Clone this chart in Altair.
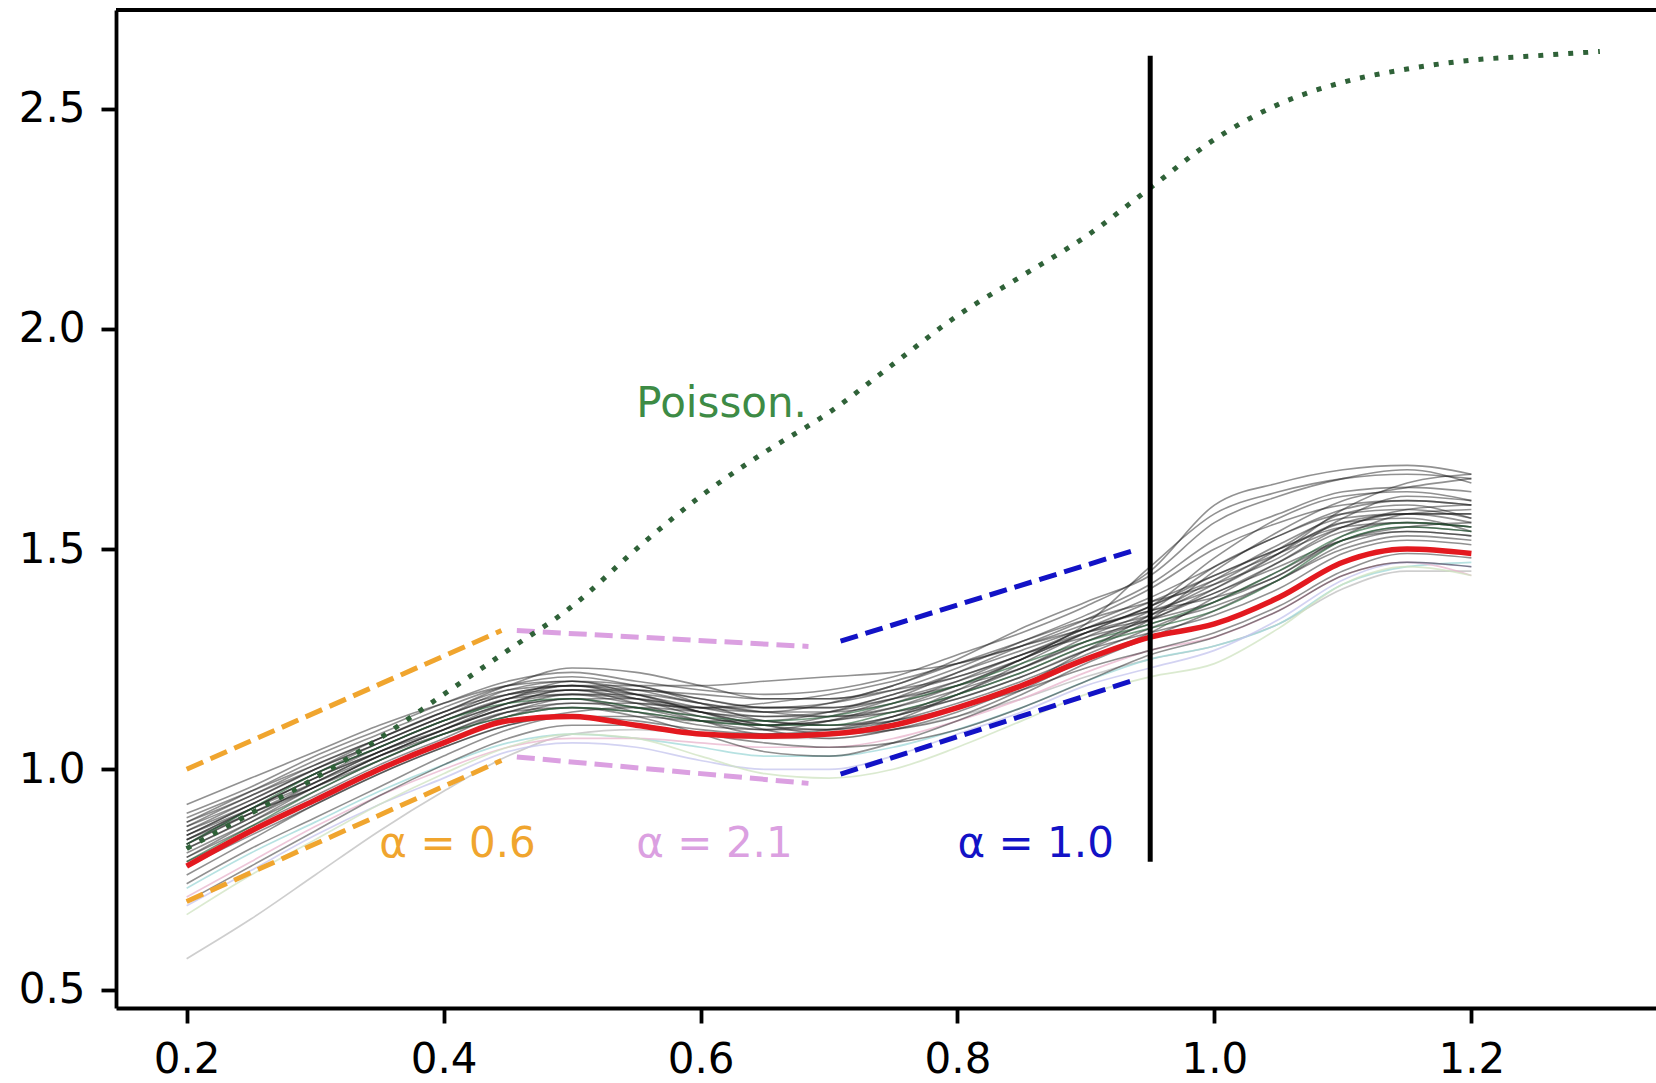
import altair as alt
import pandas as pd

# ---------------- data ----------------
x_grid = [0.2, 0.25, 0.3, 0.35, 0.4, 0.45, 0.5, 0.55, 0.6, 0.65, 0.7,
          0.75, 0.8, 0.85, 0.9, 0.95, 1.0, 1.05, 1.1, 1.15, 1.2]

mean_curve = [0.78, 0.86, 0.93, 1.00, 1.06, 1.11, 1.12, 1.10, 1.08, 1.075, 1.08,
              1.10, 1.14, 1.19, 1.25, 1.30, 1.33, 1.39, 1.47, 1.50, 1.49]

grey_curves = [
    [0.84, 0.91, 0.98, 1.04, 1.10, 1.16, 1.18, 1.16, 1.13, 1.12, 1.13, 1.16, 1.20, 1.25, 1.31, 1.35, 1.40, 1.47, 1.54, 1.56, 1.55],
    [0.88, 0.95, 1.02, 1.08, 1.14, 1.19, 1.21, 1.19, 1.16, 1.14, 1.15, 1.18, 1.23, 1.29, 1.35, 1.42, 1.52, 1.58, 1.63, 1.64, 1.63],
    [0.80, 0.87, 0.94, 1.01, 1.07, 1.13, 1.15, 1.14, 1.12, 1.10, 1.11, 1.13, 1.17, 1.22, 1.28, 1.33, 1.37, 1.43, 1.51, 1.54, 1.53],
    [0.86, 0.93, 1.00, 1.06, 1.12, 1.17, 1.19, 1.18, 1.17, 1.16, 1.16, 1.18, 1.21, 1.26, 1.32, 1.38, 1.44, 1.50, 1.56, 1.58, 1.58],
    [0.82, 0.89, 0.96, 1.03, 1.09, 1.14, 1.16, 1.13, 1.10, 1.09, 1.11, 1.15, 1.20, 1.26, 1.30, 1.34, 1.41, 1.49, 1.56, 1.57, 1.54],
    [0.90, 0.96, 1.03, 1.09, 1.15, 1.20, 1.22, 1.20, 1.18, 1.17, 1.18, 1.21, 1.26, 1.31, 1.37, 1.45, 1.60, 1.65, 1.68, 1.69, 1.67],
    [0.76, 0.84, 0.92, 0.99, 1.05, 1.10, 1.12, 1.11, 1.09, 1.08, 1.09, 1.12, 1.16, 1.21, 1.27, 1.31, 1.35, 1.41, 1.49, 1.52, 1.51],
    [0.85, 0.92, 0.99, 1.05, 1.11, 1.16, 1.20, 1.19, 1.15, 1.11, 1.10, 1.12, 1.17, 1.24, 1.31, 1.37, 1.43, 1.49, 1.55, 1.59, 1.60],
    [0.83, 0.90, 0.97, 1.04, 1.10, 1.15, 1.17, 1.16, 1.14, 1.13, 1.15, 1.19, 1.24, 1.29, 1.34, 1.38, 1.42, 1.48, 1.57, 1.62, 1.61],
    [0.87, 0.94, 1.00, 1.06, 1.12, 1.18, 1.20, 1.17, 1.13, 1.10, 1.09, 1.11, 1.15, 1.20, 1.26, 1.32, 1.38, 1.45, 1.52, 1.55, 1.56],
    [0.79, 0.86, 0.93, 1.00, 1.06, 1.12, 1.15, 1.15, 1.14, 1.14, 1.14, 1.16, 1.19, 1.23, 1.29, 1.35, 1.42, 1.50, 1.58, 1.60, 1.57],
    [0.81, 0.88, 0.95, 1.02, 1.08, 1.13, 1.14, 1.12, 1.08, 1.04, 1.03, 1.06, 1.11, 1.17, 1.24, 1.30, 1.36, 1.43, 1.50, 1.53, 1.52],
    [0.89, 0.95, 1.01, 1.07, 1.13, 1.18, 1.19, 1.16, 1.12, 1.10, 1.12, 1.16, 1.22, 1.28, 1.34, 1.41, 1.50, 1.56, 1.60, 1.61, 1.60],
    [0.84, 0.90, 0.96, 1.03, 1.09, 1.14, 1.17, 1.17, 1.15, 1.13, 1.12, 1.13, 1.16, 1.21, 1.27, 1.34, 1.45, 1.54, 1.61, 1.64, 1.66],
    [0.74, 0.82, 0.89, 0.96, 1.03, 1.09, 1.12, 1.12, 1.11, 1.11, 1.13, 1.17, 1.21, 1.26, 1.31, 1.34, 1.38, 1.44, 1.52, 1.55, 1.54],
    [0.86, 0.92, 0.99, 1.05, 1.11, 1.16, 1.19, 1.19, 1.19, 1.20, 1.21, 1.22, 1.24, 1.28, 1.33, 1.39, 1.46, 1.53, 1.58, 1.59, 1.57],
    [0.83, 0.91, 0.98, 1.04, 1.09, 1.14, 1.16, 1.14, 1.11, 1.09, 1.09, 1.12, 1.18, 1.25, 1.32, 1.36, 1.39, 1.44, 1.53, 1.58, 1.59],
    [0.92, 0.98, 1.04, 1.10, 1.15, 1.19, 1.20, 1.18, 1.15, 1.13, 1.13, 1.15, 1.19, 1.25, 1.33, 1.46, 1.58, 1.63, 1.66, 1.67, 1.66],
    [0.70, 0.78, 0.86, 0.94, 1.01, 1.07, 1.10, 1.10, 1.08, 1.06, 1.05, 1.06, 1.09, 1.14, 1.20, 1.26, 1.30, 1.36, 1.44, 1.47, 1.46],
    [0.87, 0.93, 1.00, 1.07, 1.13, 1.17, 1.18, 1.15, 1.11, 1.08, 1.08, 1.11, 1.17, 1.23, 1.29, 1.34, 1.40, 1.46, 1.52, 1.54, 1.53],
    [0.82, 0.89, 0.97, 1.04, 1.10, 1.15, 1.18, 1.18, 1.16, 1.14, 1.14, 1.17, 1.22, 1.27, 1.32, 1.36, 1.41, 1.49, 1.59, 1.65, 1.67],
    [0.85, 0.91, 0.97, 1.03, 1.08, 1.12, 1.14, 1.13, 1.11, 1.10, 1.11, 1.14, 1.19, 1.25, 1.31, 1.37, 1.44, 1.50, 1.55, 1.56, 1.55],
    [0.78, 0.85, 0.92, 0.99, 1.05, 1.10, 1.13, 1.14, 1.13, 1.11, 1.10, 1.11, 1.14, 1.18, 1.23, 1.27, 1.31, 1.37, 1.45, 1.49, 1.48],
    [0.88, 0.94, 1.01, 1.07, 1.13, 1.19, 1.23, 1.22, 1.19, 1.16, 1.16, 1.19, 1.25, 1.32, 1.38, 1.44, 1.56, 1.62, 1.66, 1.68, 1.65],
    [0.84, 0.91, 0.98, 1.05, 1.11, 1.16, 1.17, 1.15, 1.14, 1.15, 1.17, 1.20, 1.24, 1.28, 1.32, 1.37, 1.48, 1.57, 1.62, 1.63, 1.61],
    [0.80, 0.88, 0.96, 1.03, 1.09, 1.15, 1.18, 1.17, 1.13, 1.09, 1.07, 1.09, 1.13, 1.19, 1.27, 1.35, 1.43, 1.51, 1.57, 1.58, 1.56],
    [0.85, 0.92, 0.99, 1.06, 1.12, 1.17, 1.19, 1.17, 1.14, 1.12, 1.12, 1.14, 1.18, 1.23, 1.30, 1.36, 1.46, 1.53, 1.59, 1.61, 1.60],
    [0.83, 0.90, 0.96, 1.02, 1.08, 1.13, 1.16, 1.16, 1.13, 1.10, 1.08, 1.09, 1.12, 1.18, 1.25, 1.31, 1.39, 1.47, 1.55, 1.58, 1.58],
]

green_curves = [
    [0.83, 0.91, 0.99, 1.05, 1.11, 1.15, 1.16, 1.14, 1.12, 1.11, 1.12, 1.15, 1.19, 1.24, 1.29, 1.33, 1.38, 1.45, 1.53, 1.56, 1.55],
    [0.79, 0.87, 0.95, 1.02, 1.08, 1.12, 1.14, 1.13, 1.11, 1.10, 1.10, 1.13, 1.17, 1.22, 1.28, 1.32, 1.36, 1.43, 1.52, 1.55, 1.54],
]

pale_curves = [
    [0.57, 0.66, 0.76, 0.86, 0.95, 1.03, 1.08, 1.09, 1.08, 1.07, 1.07, 1.09, 1.12, 1.16, 1.21, 1.25, 1.28, 1.33, 1.41, 1.45, 1.45],
    [0.73, 0.81, 0.88, 0.95, 1.01, 1.06, 1.08, 1.07, 1.05, 1.03, 1.03, 1.05, 1.09, 1.14, 1.20, 1.25, 1.28, 1.33, 1.42, 1.46, 1.47],
    [0.71, 0.79, 0.87, 0.94, 1.00, 1.05, 1.07, 1.07, 1.06, 1.05, 1.05, 1.07, 1.11, 1.16, 1.22, 1.27, 1.30, 1.36, 1.44, 1.47, 1.44],
    [0.69, 0.77, 0.85, 0.92, 0.98, 1.04, 1.06, 1.05, 1.02, 1.00, 1.00, 1.03, 1.08, 1.13, 1.19, 1.23, 1.27, 1.34, 1.43, 1.47, 1.46],
    [0.67, 0.76, 0.84, 0.92, 0.99, 1.05, 1.08, 1.07, 1.03, 0.99, 0.98, 1.00, 1.05, 1.11, 1.17, 1.21, 1.24, 1.32, 1.42, 1.46, 1.44],
]
pale_names = ["p0", "p1", "p2", "p3", "p4"]

poisson_x = [0.2, 0.25, 0.3, 0.35, 0.4, 0.45, 0.5, 0.55, 0.6, 0.65, 0.7, 0.75,
             0.8, 0.85, 0.9, 0.95, 1.0, 1.05, 1.1, 1.15, 1.2, 1.25, 1.3]
poisson_y = [0.82, 0.90, 0.98, 1.07, 1.17, 1.27, 1.37, 1.50, 1.62, 1.72, 1.81, 1.92,
             2.03, 2.12, 2.21, 2.32, 2.43, 2.51, 2.56, 2.59, 2.61, 2.62, 2.63]

# dashed reference segments: (x0, y0) -> (x1, y1)
seg_names = ["o_up", "o_lo", "v_up", "v_lo", "b_up", "b_lo"]
seg_x0 = [0.20, 0.20, 0.457, 0.457, 0.709, 0.709]
seg_y0 = [1.00, 0.70, 1.315, 1.028, 1.291, 0.989]
seg_x1 = [0.445, 0.445, 0.684, 0.684, 0.935, 0.935]
seg_y1 = [1.315, 1.02, 1.279, 0.968, 1.495, 1.200]
seg_group = ["a06", "a06", "a21", "a21", "a10", "a10"]

label_text = ["α = 0.6", "α = 2.1", "α = 1.0", "Poisson."]
label_x = [0.35, 0.55, 0.80, 0.55]
label_y = [0.80, 0.80, 0.80, 1.80]
label_group = ["a06", "a21", "a10", "pois"]

vline_x = [0.95]
vline_y0 = [0.79]
vline_y1 = [2.62]

x_ticks = [0.2, 0.4, 0.6, 0.8, 1.0, 1.2]
y_ticks = [0.5, 1.0, 1.5, 2.0, 2.5]
x_domain = [0.145, 1.3437]
y_domain = [0.458, 2.724]

# ---------------- styles ----------------
PALE_COLORS = {"p0": "#bdbdbd", "p1": "#9fd8d8", "p2": "#e8b4cc", "p3": "#c4c4ee", "p4": "#cfe3c0"}
GROUP_COLORS = {"a06": "#f0a52e", "a21": "#dba0e1", "a10": "#1212c6", "pois": "#3d8b45"}

# ---------------- tables ----------------
def long(curves, names):
    rows = []
    for n, c in zip(names, curves):
        for xv, yv in zip(x_grid, c):
            rows.append({"id": n, "x": xv, "y": yv})
    return pd.DataFrame(rows)

grey_df = long(grey_curves, [f"g{i}" for i in range(len(grey_curves))])
green_df = long(green_curves, [f"d{i}" for i in range(len(green_curves))])
pale_df = long(pale_curves, pale_names)
mean_df = pd.DataFrame({"x": x_grid, "y": mean_curve})
pois_df = pd.DataFrame({"x": poisson_x, "y": poisson_y})

seg_rows = []
for n, a, b, c, d, g in zip(seg_names, seg_x0, seg_y0, seg_x1, seg_y1, seg_group):
    seg_rows.append({"id": n, "x": a, "y": b, "g": g, "o": 0})
    seg_rows.append({"id": n, "x": c, "y": d, "g": g, "o": 1})
seg_df = pd.DataFrame(seg_rows)

lab_df = pd.DataFrame({"t": label_text, "x": label_x, "y": label_y, "g": label_group})
vl_df = pd.DataFrame({"x": vline_x, "y": vline_y0, "y2": vline_y1})

W, H = 1540, 998
FONT = "DejaVu Sans"

xs = alt.Scale(domain=x_domain, nice=False, zero=False)
ys = alt.Scale(domain=y_domain, nice=False, zero=False)

X = alt.X("x:Q", scale=xs, axis=alt.Axis(values=x_ticks, format=".1f", title=None))
Y = alt.Y("y:Q", scale=ys, axis=alt.Axis(values=y_ticks, format=".1f", title=None))

grp_scale = alt.Scale(domain=list(GROUP_COLORS.keys()), range=list(GROUP_COLORS.values()))

pale = alt.Chart(pale_df).mark_line(strokeWidth=1.7, opacity=0.75, interpolate="monotone").encode(
    x=X, y=Y, detail="id:N",
    color=alt.Color("id:N", scale=alt.Scale(domain=list(PALE_COLORS.keys()),
                                            range=list(PALE_COLORS.values())), legend=None))

grey = alt.Chart(grey_df).mark_line(strokeWidth=1.6, color="#1a1a1a", opacity=0.48,
                                    interpolate="monotone").encode(x=X, y=Y, detail="id:N")

greens = alt.Chart(green_df).mark_line(strokeWidth=1.6, color="#1d5a2e", opacity=0.6,
                                       interpolate="monotone").encode(x=X, y=Y, detail="id:N")

segs = alt.Chart(seg_df).mark_line(strokeWidth=5, strokeDash=[18, 8], strokeCap="butt").encode(
    x=X, y=Y, detail="id:N", order="o:Q",
    color=alt.Color("g:N", scale=grp_scale, legend=None))

pois = alt.Chart(pois_df).mark_line(strokeWidth=5, strokeDash=[5, 10], strokeCap="butt",
                                    color="#2f6238", interpolate="monotone").encode(x=X, y=Y)

mean = alt.Chart(mean_df).mark_line(strokeWidth=5.5, color="#e3191f", interpolate="monotone").encode(x=X, y=Y)

vline = alt.Chart(vl_df).mark_rule(strokeWidth=5, color="black").encode(x=X, y=Y, y2="y2:Q")

labels = alt.Chart(lab_df).mark_text(align="left", baseline="alphabetic", font=FONT, fontSize=42).encode(
    x=X, y=Y, text="t:N",
    color=alt.Color("g:N", scale=grp_scale, legend=None))

top_border = alt.Chart(pd.DataFrame({"k": [0]})).mark_rule(color="black", strokeWidth=3.8).encode(
    x=alt.value(0), x2=alt.value(W), y=alt.value(0))

chart = alt.layer(pale, grey, greens, segs, pois, mean, vline, labels, top_border).resolve_scale(
    color="independent"
).properties(
    width=W, height=H,
    background="white",
    autosize=alt.AutoSizeParams(type="none"),
    padding={"left": 116, "top": 10, "right": 0, "bottom": 75},
).configure_view(stroke=None).configure_axis(
    grid=False, labelFont=FONT, labelFontSize=42, labelColor="black",
    tickSize=15, tickWidth=3.8, tickColor="black",
    domainWidth=3.8, domainColor="black", labelPadding=16,
)

chart.save("out.html", embed_options={"renderer": "svg", "actions": False})
